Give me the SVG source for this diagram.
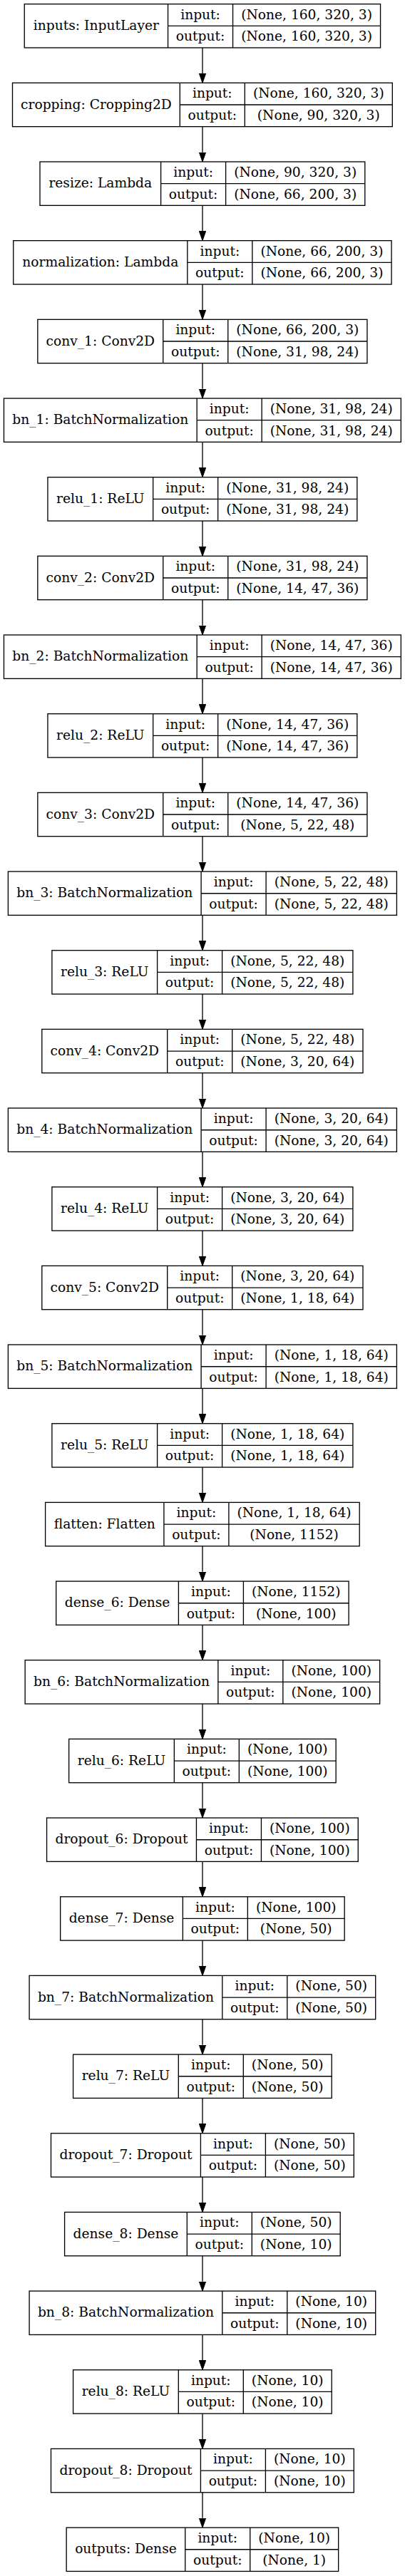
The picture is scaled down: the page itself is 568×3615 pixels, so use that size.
<svg xmlns="http://www.w3.org/2000/svg" width="568" height="3615" viewBox="0 0 568 3615">
<style>
.b{fill:#fff;stroke:#000;stroke-width:1.33}
.l{fill:none;stroke:#000;stroke-width:1.33}
.e{fill:none;stroke:#000;stroke-width:1.33;marker-end:url(#ah)}
text{font-family:"DejaVu Serif","Liberation Serif",serif;font-size:18.67px;text-anchor:middle;fill:#000}
</style>
<defs>
<marker id="ah" markerUnits="userSpaceOnUse" markerWidth="14" markerHeight="10" refX="0" refY="5" orient="auto" viewBox="0 0 14 10">
<path d="M0,0.33 L13.33,5 L0,9.67 Z" fill="#000" stroke="#000" stroke-width="1"/>
</marker>
</defs>
<rect x="0" y="0" width="568" height="3615" fill="#fff"/>
<g id="connectors">
<path class="e" d="M284,67V103.01"/>
<path class="e" d="M284,177.67V213.68"/>
<path class="e" d="M284,288.34V324.35"/>
<path class="e" d="M284,399.01V435.02"/>
<path class="e" d="M284,509.68V545.69"/>
<path class="e" d="M284,620.35V656.36"/>
<path class="e" d="M284,731.02V767.03"/>
<path class="e" d="M284,841.69V877.7"/>
<path class="e" d="M284,952.36V988.37"/>
<path class="e" d="M284,1063.03V1099.04"/>
<path class="e" d="M284,1173.7V1209.71"/>
<path class="e" d="M284,1284.37V1320.38"/>
<path class="e" d="M284,1395.04V1431.05"/>
<path class="e" d="M284,1505.71V1541.72"/>
<path class="e" d="M284,1616.38V1652.39"/>
<path class="e" d="M284,1727.05V1763.06"/>
<path class="e" d="M284,1837.72V1873.73"/>
<path class="e" d="M284,1948.39V1984.4"/>
<path class="e" d="M284,2059.06V2095.07"/>
<path class="e" d="M284,2169.73V2205.74"/>
<path class="e" d="M284,2280.4V2316.41"/>
<path class="e" d="M284,2391.07V2427.08"/>
<path class="e" d="M284,2501.74V2537.75"/>
<path class="e" d="M284,2612.41V2648.42"/>
<path class="e" d="M284,2723.08V2759.09"/>
<path class="e" d="M284,2833.75V2869.76"/>
<path class="e" d="M284,2944.42V2980.43"/>
<path class="e" d="M284,3055.09V3091.1"/>
<path class="e" d="M284,3165.76V3201.77"/>
<path class="e" d="M284,3276.43V3312.44"/>
<path class="e" d="M284,3387.1V3423.11"/>
<path class="e" d="M284,3497.77V3533.78"/>
</g>

<g id="inputs" transform="translate(0,5.67)">
<rect class="b" x="34.25" y="0" width="499.3" height="61.33"/>
<path class="l" d="M235.55,0V61.33M326.55,0V61.33M235.55,30.67H533.55"/>
<text x="134.9" y="36.37">inputs: InputLayer</text>
<text x="281.05" y="21.03">input:</text><text x="281.05" y="51.7">output:</text>
<text x="430.05" y="21.03">(None, 160, 320, 3)</text><text x="430.05" y="51.7">(None, 160, 320, 3)</text>
</g>

<g id="cropping" transform="translate(0,116.34)">
<rect class="b" x="17.5" y="0" width="532.8" height="61.33"/>
<path class="l" d="M252.3,0V61.33M343.3,0V61.33M252.3,30.67H550.3"/>
<text x="134.9" y="36.37">cropping: Cropping2D</text>
<text x="297.8" y="21.03">input:</text><text x="297.8" y="51.7">output:</text>
<text x="446.8" y="21.03">(None, 160, 320, 3)</text><text x="446.8" y="51.7">(None, 90, 320, 3)</text>
</g>

<g id="resize" transform="translate(0,227.01)">
<rect class="b" x="56" y="0" width="455.8" height="61.33"/>
<path class="l" d="M225.6,0V61.33M316.6,0V61.33M225.6,30.67H511.8"/>
<text x="140.8" y="36.37">resize: Lambda</text>
<text x="271.1" y="21.03">input:</text><text x="271.1" y="51.7">output:</text>
<text x="414.2" y="21.03">(None, 90, 320, 3)</text><text x="414.2" y="51.7">(None, 66, 200, 3)</text>
</g>

<g id="normalization" transform="translate(0,337.68)">
<rect class="b" x="18.75" y="0" width="530.3" height="61.33"/>
<path class="l" d="M262.85,0V61.33M353.85,0V61.33M262.85,30.67H549.05"/>
<text x="140.8" y="36.37">normalization: Lambda</text>
<text x="308.35" y="21.03">input:</text><text x="308.35" y="51.7">output:</text>
<text x="451.45" y="21.03">(None, 66, 200, 3)</text><text x="451.45" y="51.7">(None, 66, 200, 3)</text>
</g>

<g id="conv_1" transform="translate(0,448.35)">
<rect class="b" x="52.85" y="0" width="462.1" height="61.33"/>
<path class="l" d="M228.75,0V61.33M319.75,0V61.33M228.75,30.67H514.95"/>
<text x="140.8" y="36.37">conv_1: Conv2D</text>
<text x="274.25" y="21.03">input:</text><text x="274.25" y="51.7">output:</text>
<text x="417.35" y="21.03">(None, 66, 200, 3)</text><text x="417.35" y="51.7">(None, 31, 98, 24)</text>
</g>

<g id="bn_1" transform="translate(0,559.02)">
<rect class="b" x="5.45" y="0" width="556.9" height="61.33"/>
<path class="l" d="M276.15,0V61.33M367.15,0V61.33M276.15,30.67H562.35"/>
<text x="140.8" y="36.37">bn_1: BatchNormalization</text>
<text x="321.65" y="21.03">input:</text><text x="321.65" y="51.7">output:</text>
<text x="464.75" y="21.03">(None, 31, 98, 24)</text><text x="464.75" y="51.7">(None, 31, 98, 24)</text>
</g>

<g id="relu_1" transform="translate(0,669.69)">
<rect class="b" x="66.95" y="0" width="433.9" height="61.33"/>
<path class="l" d="M214.65,0V61.33M305.65,0V61.33M214.65,30.67H500.85"/>
<text x="140.8" y="36.37">relu_1: ReLU</text>
<text x="260.15" y="21.03">input:</text><text x="260.15" y="51.7">output:</text>
<text x="403.25" y="21.03">(None, 31, 98, 24)</text><text x="403.25" y="51.7">(None, 31, 98, 24)</text>
</g>

<g id="conv_2" transform="translate(0,780.36)">
<rect class="b" x="52.85" y="0" width="462.1" height="61.33"/>
<path class="l" d="M228.75,0V61.33M319.75,0V61.33M228.75,30.67H514.95"/>
<text x="140.8" y="36.37">conv_2: Conv2D</text>
<text x="274.25" y="21.03">input:</text><text x="274.25" y="51.7">output:</text>
<text x="417.35" y="21.03">(None, 31, 98, 24)</text><text x="417.35" y="51.7">(None, 14, 47, 36)</text>
</g>

<g id="bn_2" transform="translate(0,891.03)">
<rect class="b" x="5.45" y="0" width="556.9" height="61.33"/>
<path class="l" d="M276.15,0V61.33M367.15,0V61.33M276.15,30.67H562.35"/>
<text x="140.8" y="36.37">bn_2: BatchNormalization</text>
<text x="321.65" y="21.03">input:</text><text x="321.65" y="51.7">output:</text>
<text x="464.75" y="21.03">(None, 14, 47, 36)</text><text x="464.75" y="51.7">(None, 14, 47, 36)</text>
</g>

<g id="relu_2" transform="translate(0,1001.7)">
<rect class="b" x="66.95" y="0" width="433.9" height="61.33"/>
<path class="l" d="M214.65,0V61.33M305.65,0V61.33M214.65,30.67H500.85"/>
<text x="140.8" y="36.37">relu_2: ReLU</text>
<text x="260.15" y="21.03">input:</text><text x="260.15" y="51.7">output:</text>
<text x="403.25" y="21.03">(None, 14, 47, 36)</text><text x="403.25" y="51.7">(None, 14, 47, 36)</text>
</g>

<g id="conv_3" transform="translate(0,1112.37)">
<rect class="b" x="52.85" y="0" width="462.1" height="61.33"/>
<path class="l" d="M228.75,0V61.33M319.75,0V61.33M228.75,30.67H514.95"/>
<text x="140.8" y="36.37">conv_3: Conv2D</text>
<text x="274.25" y="21.03">input:</text><text x="274.25" y="51.7">output:</text>
<text x="417.35" y="21.03">(None, 14, 47, 36)</text><text x="417.35" y="51.7">(None, 5, 22, 48)</text>
</g>

<g id="bn_3" transform="translate(0,1223.04)">
<rect class="b" x="11.4" y="0" width="545" height="61.33"/>
<path class="l" d="M282.1,0V61.33M373.1,0V61.33M282.1,30.67H556.4"/>
<text x="146.75" y="36.37">bn_3: BatchNormalization</text>
<text x="327.6" y="21.03">input:</text><text x="327.6" y="51.7">output:</text>
<text x="464.75" y="21.03">(None, 5, 22, 48)</text><text x="464.75" y="51.7">(None, 5, 22, 48)</text>
</g>

<g id="relu_3" transform="translate(0,1333.71)">
<rect class="b" x="72.9" y="0" width="422" height="61.33"/>
<path class="l" d="M220.6,0V61.33M311.6,0V61.33M220.6,30.67H494.9"/>
<text x="146.75" y="36.37">relu_3: ReLU</text>
<text x="266.1" y="21.03">input:</text><text x="266.1" y="51.7">output:</text>
<text x="403.25" y="21.03">(None, 5, 22, 48)</text><text x="403.25" y="51.7">(None, 5, 22, 48)</text>
</g>

<g id="conv_4" transform="translate(0,1444.38)">
<rect class="b" x="58.8" y="0" width="450.2" height="61.33"/>
<path class="l" d="M234.7,0V61.33M325.7,0V61.33M234.7,30.67H509"/>
<text x="146.75" y="36.37">conv_4: Conv2D</text>
<text x="280.2" y="21.03">input:</text><text x="280.2" y="51.7">output:</text>
<text x="417.35" y="21.03">(None, 5, 22, 48)</text><text x="417.35" y="51.7">(None, 3, 20, 64)</text>
</g>

<g id="bn_4" transform="translate(0,1555.05)">
<rect class="b" x="11.4" y="0" width="545" height="61.33"/>
<path class="l" d="M282.1,0V61.33M373.1,0V61.33M282.1,30.67H556.4"/>
<text x="146.75" y="36.37">bn_4: BatchNormalization</text>
<text x="327.6" y="21.03">input:</text><text x="327.6" y="51.7">output:</text>
<text x="464.75" y="21.03">(None, 3, 20, 64)</text><text x="464.75" y="51.7">(None, 3, 20, 64)</text>
</g>

<g id="relu_4" transform="translate(0,1665.72)">
<rect class="b" x="72.9" y="0" width="422" height="61.33"/>
<path class="l" d="M220.6,0V61.33M311.6,0V61.33M220.6,30.67H494.9"/>
<text x="146.75" y="36.37">relu_4: ReLU</text>
<text x="266.1" y="21.03">input:</text><text x="266.1" y="51.7">output:</text>
<text x="403.25" y="21.03">(None, 3, 20, 64)</text><text x="403.25" y="51.7">(None, 3, 20, 64)</text>
</g>

<g id="conv_5" transform="translate(0,1776.39)">
<rect class="b" x="58.8" y="0" width="450.2" height="61.33"/>
<path class="l" d="M234.7,0V61.33M325.7,0V61.33M234.7,30.67H509"/>
<text x="146.75" y="36.37">conv_5: Conv2D</text>
<text x="280.2" y="21.03">input:</text><text x="280.2" y="51.7">output:</text>
<text x="417.35" y="21.03">(None, 3, 20, 64)</text><text x="417.35" y="51.7">(None, 1, 18, 64)</text>
</g>

<g id="bn_5" transform="translate(0,1887.06)">
<rect class="b" x="11.4" y="0" width="545" height="61.33"/>
<path class="l" d="M282.1,0V61.33M373.1,0V61.33M282.1,30.67H556.4"/>
<text x="146.75" y="36.37">bn_5: BatchNormalization</text>
<text x="327.6" y="21.03">input:</text><text x="327.6" y="51.7">output:</text>
<text x="464.75" y="21.03">(None, 1, 18, 64)</text><text x="464.75" y="51.7">(None, 1, 18, 64)</text>
</g>

<g id="relu_5" transform="translate(0,1997.73)">
<rect class="b" x="72.9" y="0" width="422" height="61.33"/>
<path class="l" d="M220.6,0V61.33M311.6,0V61.33M220.6,30.67H494.9"/>
<text x="146.75" y="36.37">relu_5: ReLU</text>
<text x="266.1" y="21.03">input:</text><text x="266.1" y="51.7">output:</text>
<text x="403.25" y="21.03">(None, 1, 18, 64)</text><text x="403.25" y="51.7">(None, 1, 18, 64)</text>
</g>

<g id="flatten" transform="translate(0,2108.4)">
<rect class="b" x="63.6" y="0" width="440.6" height="61.33"/>
<path class="l" d="M229.9,0V61.33M320.9,0V61.33M229.9,30.67H504.2"/>
<text x="146.75" y="36.37">flatten: Flatten</text>
<text x="275.4" y="21.03">input:</text><text x="275.4" y="51.7">output:</text>
<text x="412.55" y="21.03">(None, 1, 18, 64)</text><text x="412.55" y="51.7">(None, 1152)</text>
</g>

<g id="dense_6" transform="translate(0,2219.07)">
<rect class="b" x="78.7" y="0" width="410.4" height="61.33"/>
<path class="l" d="M250.4,0V61.33M341.4,0V61.33M250.4,30.67H489.1"/>
<text x="164.55" y="36.37">dense_6: Dense</text>
<text x="295.9" y="21.03">input:</text><text x="295.9" y="51.7">output:</text>
<text x="415.25" y="21.03">(None, 1152)</text><text x="415.25" y="51.7">(None, 100)</text>
</g>

<g id="bn_6" transform="translate(0,2329.74)">
<rect class="b" x="35.15" y="0" width="497.5" height="61.33"/>
<path class="l" d="M305.85,0V61.33M396.85,0V61.33M305.85,30.67H532.65"/>
<text x="170.5" y="36.37">bn_6: BatchNormalization</text>
<text x="351.35" y="21.03">input:</text><text x="351.35" y="51.7">output:</text>
<text x="464.75" y="21.03">(None, 100)</text><text x="464.75" y="51.7">(None, 100)</text>
</g>

<g id="relu_6" transform="translate(0,2440.41)">
<rect class="b" x="96.65" y="0" width="374.5" height="61.33"/>
<path class="l" d="M244.35,0V61.33M335.35,0V61.33M244.35,30.67H471.15"/>
<text x="170.5" y="36.37">relu_6: ReLU</text>
<text x="289.85" y="21.03">input:</text><text x="289.85" y="51.7">output:</text>
<text x="403.25" y="21.03">(None, 100)</text><text x="403.25" y="51.7">(None, 100)</text>
</g>

<g id="dropout_6" transform="translate(0,2551.08)">
<rect class="b" x="65.55" y="0" width="436.7" height="61.33"/>
<path class="l" d="M275.45,0V61.33M366.45,0V61.33M275.45,30.67H502.25"/>
<text x="170.5" y="36.37">dropout_6: Dropout</text>
<text x="320.95" y="21.03">input:</text><text x="320.95" y="51.7">output:</text>
<text x="434.35" y="21.03">(None, 100)</text><text x="434.35" y="51.7">(None, 100)</text>
</g>

<g id="dense_7" transform="translate(0,2661.75)">
<rect class="b" x="84.65" y="0" width="398.5" height="61.33"/>
<path class="l" d="M256.35,0V61.33M347.35,0V61.33M256.35,30.67H483.15"/>
<text x="170.5" y="36.37">dense_7: Dense</text>
<text x="301.85" y="21.03">input:</text><text x="301.85" y="51.7">output:</text>
<text x="415.25" y="21.03">(None, 100)</text><text x="415.25" y="51.7">(None, 50)</text>
</g>

<g id="bn_7" transform="translate(0,2772.42)">
<rect class="b" x="41.1" y="0" width="485.6" height="61.33"/>
<path class="l" d="M311.8,0V61.33M402.8,0V61.33M311.8,30.67H526.7"/>
<text x="176.45" y="36.37">bn_7: BatchNormalization</text>
<text x="357.3" y="21.03">input:</text><text x="357.3" y="51.7">output:</text>
<text x="464.75" y="21.03">(None, 50)</text><text x="464.75" y="51.7">(None, 50)</text>
</g>

<g id="relu_7" transform="translate(0,2883.09)">
<rect class="b" x="102.6" y="0" width="362.6" height="61.33"/>
<path class="l" d="M250.3,0V61.33M341.3,0V61.33M250.3,30.67H465.2"/>
<text x="176.45" y="36.37">relu_7: ReLU</text>
<text x="295.8" y="21.03">input:</text><text x="295.8" y="51.7">output:</text>
<text x="403.25" y="21.03">(None, 50)</text><text x="403.25" y="51.7">(None, 50)</text>
</g>

<g id="dropout_7" transform="translate(0,2993.76)">
<rect class="b" x="71.5" y="0" width="424.8" height="61.33"/>
<path class="l" d="M281.4,0V61.33M372.4,0V61.33M281.4,30.67H496.3"/>
<text x="176.45" y="36.37">dropout_7: Dropout</text>
<text x="326.9" y="21.03">input:</text><text x="326.9" y="51.7">output:</text>
<text x="434.35" y="21.03">(None, 50)</text><text x="434.35" y="51.7">(None, 50)</text>
</g>

<g id="dense_8" transform="translate(0,3104.43)">
<rect class="b" x="90.6" y="0" width="386.6" height="61.33"/>
<path class="l" d="M262.3,0V61.33M353.3,0V61.33M262.3,30.67H477.2"/>
<text x="176.45" y="36.37">dense_8: Dense</text>
<text x="307.8" y="21.03">input:</text><text x="307.8" y="51.7">output:</text>
<text x="415.25" y="21.03">(None, 50)</text><text x="415.25" y="51.7">(None, 10)</text>
</g>

<g id="bn_8" transform="translate(0,3215.1)">
<rect class="b" x="41.1" y="0" width="485.6" height="61.33"/>
<path class="l" d="M311.8,0V61.33M402.8,0V61.33M311.8,30.67H526.7"/>
<text x="176.45" y="36.37">bn_8: BatchNormalization</text>
<text x="357.3" y="21.03">input:</text><text x="357.3" y="51.7">output:</text>
<text x="464.75" y="21.03">(None, 10)</text><text x="464.75" y="51.7">(None, 10)</text>
</g>

<g id="relu_8" transform="translate(0,3325.77)">
<rect class="b" x="102.6" y="0" width="362.6" height="61.33"/>
<path class="l" d="M250.3,0V61.33M341.3,0V61.33M250.3,30.67H465.2"/>
<text x="176.45" y="36.37">relu_8: ReLU</text>
<text x="295.8" y="21.03">input:</text><text x="295.8" y="51.7">output:</text>
<text x="403.25" y="21.03">(None, 10)</text><text x="403.25" y="51.7">(None, 10)</text>
</g>

<g id="dropout_8" transform="translate(0,3436.44)">
<rect class="b" x="71.5" y="0" width="424.8" height="61.33"/>
<path class="l" d="M281.4,0V61.33M372.4,0V61.33M281.4,30.67H496.3"/>
<text x="176.45" y="36.37">dropout_8: Dropout</text>
<text x="326.9" y="21.03">input:</text><text x="326.9" y="51.7">output:</text>
<text x="434.35" y="21.03">(None, 10)</text><text x="434.35" y="51.7">(None, 10)</text>
</g>

<g id="outputs" transform="translate(0,3547.11)">
<rect class="b" x="93.15" y="0" width="381.5" height="61.33"/>
<path class="l" d="M259.75,0V61.33M350.75,0V61.33M259.75,30.67H474.65"/>
<text x="176.45" y="36.37">outputs: Dense</text>
<text x="305.25" y="21.03">input:</text><text x="305.25" y="51.7">output:</text>
<text x="412.7" y="21.03">(None, 10)</text><text x="412.7" y="51.7">(None, 1)</text>
</g>
</svg>
